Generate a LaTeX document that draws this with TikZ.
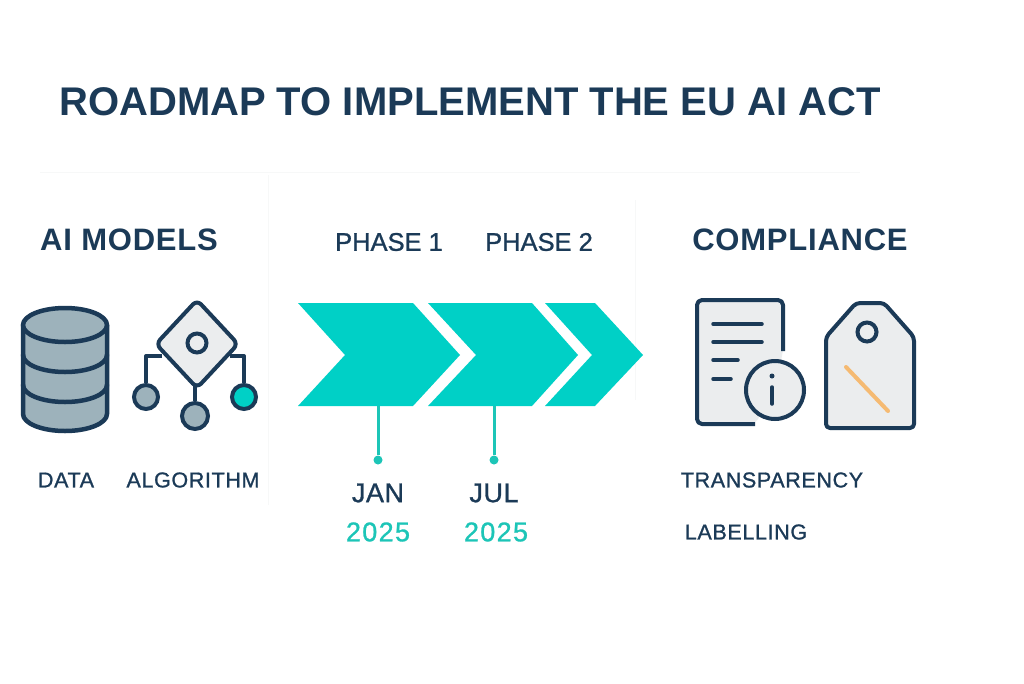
\documentclass[tikz,border=0pt]{standalone}
\usepackage{fontspec}
\setmainfont{Liberation Sans}
\newfontfamily\medfont[FakeBold=1]{Liberation Sans}
\definecolor{navy}{HTML}{1B3A57}
\definecolor{teal1}{HTML}{00D0C6}
\definecolor{teal2}{HTML}{1CC5B7}
\definecolor{slate}{HTML}{9DB2BB}
\definecolor{paper}{HTML}{EBEDEE}
\definecolor{peach}{HTML}{F5BA72}
\definecolor{faint}{HTML}{F7F8F8}
\begin{document}
\begin{tikzpicture}[x=1pt, y=-1pt,
	title/.style = {text=navy, font=\fontsize{40}{40}\selectfont\bfseries},
	head/.style = {text=navy, font=\fontsize{31}{31}\selectfont\bfseries\addfontfeature{LetterSpace=2.5}},
	phase/.style = {text=navy, font=\fontsize{25.5}{26}\medfont},
	small/.style = {text=navy, font=\fontsize{21.5}{22}\medfont\addfontfeature{LetterSpace=3}},
	month/.style = {text=navy, font=\fontsize{27}{27}\medfont\addfontfeature{LetterSpace=2}},
	year/.style = {text=teal2, font=\fontsize{27}{27}\medfont\addfontfeature{LetterSpace=5}},
	chev/.style = {fill=teal1},
	icon/.style = {draw=navy, line width=4pt, line join=round, line cap=round},
	stem/.style = {draw=teal2, line width=3pt},
	tip/.style = {circle, fill=teal2, inner sep=0pt, minimum size=9pt},
	leaf/.style = {circle, draw=navy, line width=4pt, fill=slate, inner sep=0pt}]
	\useasboundingbox (0,0) rectangle (1024,683);
	\fill[white] (0,0) rectangle (1024,683);
	% faint rules
	\draw[faint] (40,172) -- (860,172);
	\draw[faint] (268,175) -- (268,505);
	\draw[faint] (635,200) -- (635,400);
	% texts
	\node[title] (t) at (470,102) {ROADMAP TO IMPLEMENT THE EU AI ACT};
	\node[head] (models) at (129,240) {AI MODELS};
	\node[phase] (p1) at (389,242) {PHASE 1};
	\node[phase] (p2) at (539,242) {PHASE 2};
	\node[head] (comp) at (800,240) {COMPLIANCE};
	\node[small] (data) at (66,480) {DATA};
	\node[small] (algo) at (193,480) {ALGORITHM};
	\node[small] (transp) at (772,480) {TRANSPARENCY};
	\node[small] (label) at (746,532) {LABELLING};
	\node[month] (jan) at (378,493) {JAN};
	\node[month] (jul) at (494,493) {JUL};
	\node[year] (y1) at (378,532) {2025};
	\node[year] (y2) at (496,532) {2025};
	% chevrons
	\fill[chev] (298,303) -- (413,303) -- (460,355) -- (413,406) -- (298,406) -- (345,355) -- cycle;
	\fill[chev] (428,303) -- (532,303) -- (578,355) -- (532,406) -- (428,406) -- (476,355) -- cycle;
	\fill[chev] (545,303) -- (595,303) -- (643,355) -- (595,406) -- (545,406) -- (592,355) -- cycle;
	\coordinate (c1) at (378,406);
	\coordinate (c2) at (494,406);
	\node[tip] (d1) at (378,460) {};
	\node[tip] (d2) at (494,460) {};
	\draw[stem] (c1) -- (d1);
	\draw[stem] (c2) -- (d2);
	% database
	\draw[icon, line width=4.5pt, fill=slate] (23,325) -- (23,414) arc[start angle=180, end angle=0, x radius=42, y radius=17] -- (107,325);
	\draw[icon, line width=4.5pt] (23,355) arc[start angle=180, end angle=0, x radius=42, y radius=17];
	\draw[icon, line width=4.5pt] (23,385) arc[start angle=180, end angle=0, x radius=42, y radius=17];
	\draw[icon, line width=4.5pt, fill=slate] (65,325) ellipse[x radius=42, y radius=17];
	% algorithm
	\node[leaf, minimum size=24pt] (l1) at (146,397) {};
	\node[leaf, minimum size=26pt] (l2) at (195,416) {};
	\node[leaf, minimum size=24pt, fill=teal1] (l3) at (244,397) {};
	\coordinate (a1) at (162,356);
	\coordinate (a2) at (195,385);
	\coordinate (a3) at (230,356);
	\draw[icon, line cap=butt] (a1) -| (l1);
	\draw[icon, line cap=butt] (a2) -- (l2);
	\draw[icon, line cap=butt] (a3) -| (l3);
	\draw[icon, fill=paper, rounded corners=6pt] (197,300) -- (238,344) -- (197,388) -- (156,344) -- cycle;
	\node[leaf, minimum size=19pt, fill=paper] (hub) at (197,343) {};
	% document
	\fill[paper, rounded corners=5pt] (755,424) -- (697,424) -- (697,300) -- (783,300) -- (783,351) -- (775,390) -- cycle;
	\draw[icon, rounded corners=5pt, line cap=butt] (755,424) -- (697,424) -- (697,300) -- (783,300) -- (783,351);
	\draw[icon, line width=3.5pt] (713,324) -- (762,324);
	\draw[icon, line width=3.5pt] (713,342) -- (762,342);
	\draw[icon, line width=3.5pt] (713,360) -- (738,360);
	\draw[icon, line width=3.5pt] (713,379) -- (731,379);
	\node[leaf, minimum size=58pt, fill=paper] (info) at (775,390) {};
	\fill[navy] (772,376) circle (2.5pt);
	\draw[icon, line width=3.5pt] (772,387) -- (772,404);
	% tag
	\draw[icon, fill=paper, rounded corners=4pt] (856,303) -- (884,303) -- (914,337) -- (914,428) -- (826,428) -- (826,337) -- cycle;
	\node[leaf, minimum size=19pt, fill=paper] (hole) at (867,332) {};
	\draw[draw=peach, line width=4pt, line cap=round] (846,367) -- (888,411);
\end{tikzpicture}
\end{document}
